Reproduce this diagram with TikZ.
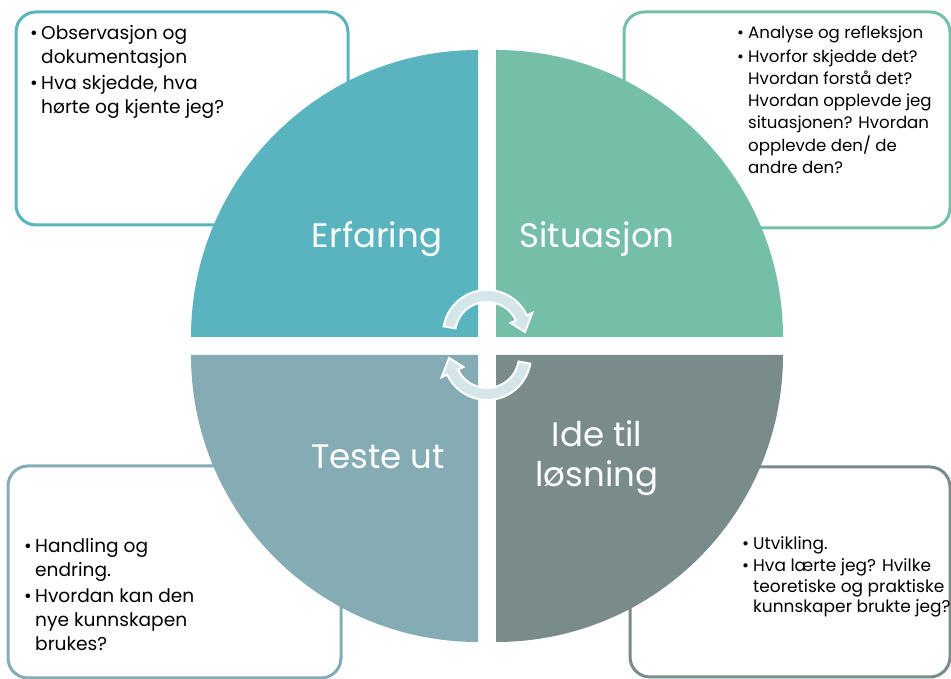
\documentclass[tikz,border=0pt]{standalone}
\usepackage{fontspec}
\setmainfont{Poppins}
\definecolor{erfaring}{HTML}{5AB4C0}
\definecolor{situasjon}{HTML}{75BEA8}
\definecolor{teste}{HTML}{85ABB5}
\definecolor{losning}{HTML}{7A8B8C}
\definecolor{pil}{HTML}{D5E6EA}
\def\punkt{\makebox[11pt][l]{\textbullet}}
\newcommand\punktliste[1]{\begin{tabular}[t]{@{}l@{}l@{}}#1\end{tabular}}
\tikzset{
	boks/.style={line width=3pt, rounded corners=20pt, fill=white},
	tittel/.style={text=white, inner sep=0pt, anchor=base, font=\fontsize{34}{40}\selectfont},
	punkter/.style={inner sep=0pt, anchor=base west, text=black},
	sirkelpil/.style={fill=pil, draw=white, line width=2pt},
}

\begin{document}
\begin{tikzpicture}[x=1pt, y=1pt]
			%%%%% START %%%%%
			\useasboundingbox (0, 0) rectangle (951, 679);
			
			\draw[boks, draw=erfaring] (16, 454) rectangle (348, 667);
			\draw[boks, draw=situasjon] (624, 451) rectangle (950, 667);
			\draw[boks, draw=teste] (8, 1) rectangle (341, 213);
			\draw[boks, draw=losning] (630, 2) rectangle (950, 212);
			
			\fill[erfaring] (478, 342) -- (191, 342) arc (180:90:287) -- cycle;
			\fill[situasjon] (496, 342) -- (496, 629) arc (90:0:287) -- cycle;
			\fill[teste] (478, 324) -- (478, 37) arc (270:180:287) -- cycle;
			\fill[losning] (496, 324) -- (783, 324) arc (0:-90:287) -- cycle;
			
			\begin{scope}[shift={(487, 345)}]
				\draw[sirkelpil] (170:44) arc (170:25:44) -- (25:50) -- (3:38) -- (25:26) -- (25:32) arc (25:170:32) -- cycle;
			\end{scope}
			\begin{scope}[shift={(487, 323)}]
				\draw[sirkelpil] (-10:44) arc (-10:-155:44) -- (-155:50) -- (-177:38) -- (-155:26) -- (-155:32) arc (-155:-10:32) -- cycle;
			\end{scope}
			
			\node[tittel] (erfaring) at (377, 431) {Erfaring};
			\node[tittel] (situasjon) at (597, 431) {Situasjon};
			\node[tittel] (teste) at (378, 210) {Teste ut};
			\node[tittel] (losning) at (597, 232) {\begin{tabular}[t]{@{}c@{}}Ide til\\løsning\end{tabular}};
			
			\node[punkter, font=\fontsize{18.6}{24}\selectfont] (erfaring-tekst) at (30, 639) {\punktliste{\punkt & Observasjon og\\ & dokumentasjon\\[2pt] \punkt & Hva skjedde, hva\\ & hørte og kjente jeg?}};
			\node[punkter, font=\fontsize{16.6}{22}\selectfont] (situasjon-tekst) at (737, 640) {\punktliste{\punkt & Analyse og refleksjon\\[2pt] \punkt & Hvorfor skjedde det?\\ & Hvordan forstå det?\\ & Hvordan opplevde jeg\\ & situasjonen? Hvordan\\ & opplevde den/ de\\ & andre den?}};
			\node[punkter, font=\fontsize{18.6}{24}\selectfont] (teste-tekst) at (24, 126) {\punktliste{\punkt & Handling og\\ & endring.\\[2pt] \punkt & Hvordan kan den\\ & nye kunnskapen\\ & brukes?}};
			\node[punkter, font=\fontsize{17}{20.5}\selectfont] (losning-tekst) at (742, 129) {\punktliste{\punkt & Utvikling.\\[1.5pt] \punkt & Hva lærte jeg? Hvilke\\ & teoretiske og praktiske\\ & kunnskaper brukte jeg?}};
			
			%%%%% END %%%%%
\end{tikzpicture}
\end{document}
